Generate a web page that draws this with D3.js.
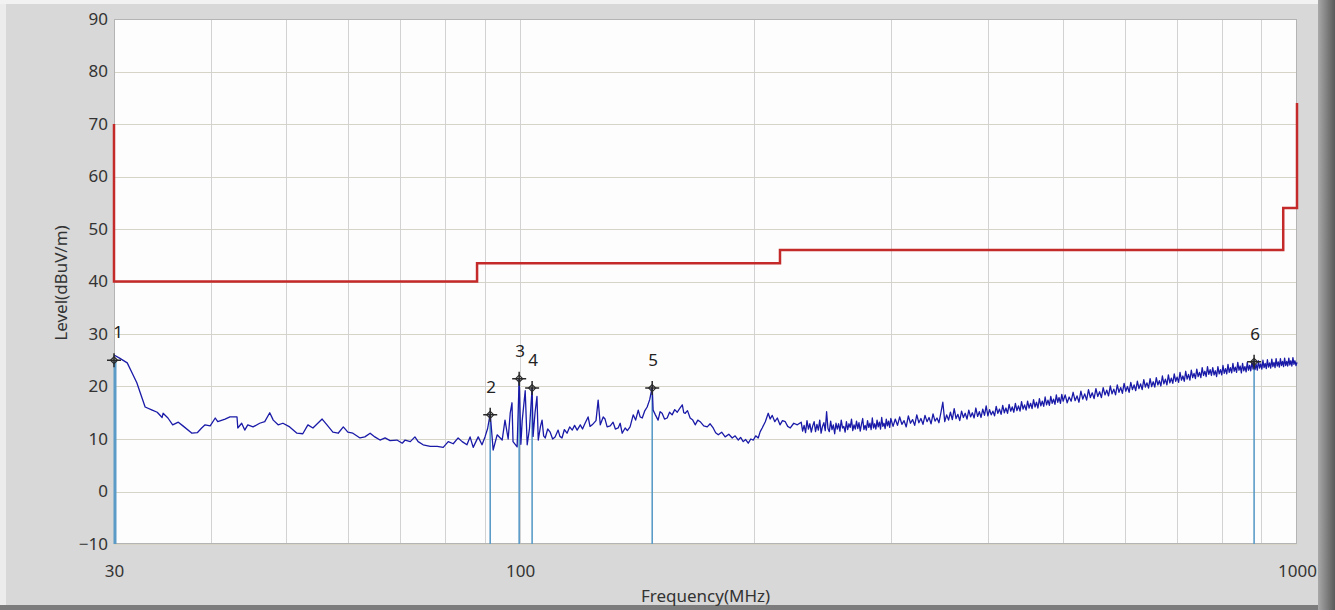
<!DOCTYPE html>
<html>
<head>
<meta charset="utf-8">
<script src="https://cdn.jsdelivr.net/npm/d3@7/dist/d3.min.js"></script>
<style>
  html, body { margin: 0; padding: 0; background: #c8c8c8; }
  svg { display: block; font-family: "Noto Sans", "DejaVu Sans", sans-serif; }
</style>
</head>
<body>
<div class="chart"></div>
<script>
// Radiated emission scan, 30 MHz - 1 GHz (log frequency axis)

// y axis ticks (dBuV/m) and labelled x ticks (MHz)
var levelTicks = [-10, 0, 10, 20, 30, 40, 50, 60, 70, 80, 90];
var freqLabels = [30, 100, 1000];
var freqGrid = [40, 50, 60, 70, 80, 90, 100, 200, 300, 400, 500, 600, 700, 800, 900];

// limit line (red), stepped
var limitFreq  = [30, 30, 88, 88, 216, 216, 960, 960, 1000, 1000];
var limitLevel = [70, 40, 40, 43.5, 43.5, 46, 46, 54, 54, 74];

// measured peaks
var markerFreq  = [30, 91.5, 99.7, 103.6, 147.9, 880.6];
var markerLevel = [25.0, 14.6, 21.5, 19.7, 19.7, 24.7];
var markerLabel = ["1", "2", "3", "4", "5", "6"];

// scan trace, 30 - 230 MHz (read point by point)
var traceLow = [
  [30.0, 26.0], [30.5, 25.4], [31.2, 24.5], [31.6, 22.8], [32.1, 20.7], [32.6, 17.8],
  [32.9, 16.1], [33.6, 15.5], [34.1, 15.1], [34.6, 14.1], [34.7, 14.9], [35.2, 14.0],
  [35.7, 12.7], [36.3, 13.2], [36.8, 12.5], [37.8, 11.1], [38.4, 11.2], [38.9, 12.1],
  [39.3, 12.7], [39.9, 12.5], [40.5, 14.0], [40.8, 13.3], [41.7, 13.8], [42.3, 14.2],
  [43.2, 14.2], [43.3, 12.1], [43.8, 13.0], [44.2, 11.7], [44.6, 12.7], [45.3, 12.3],
  [46.2, 13.0], [46.9, 13.3], [47.6, 15.0], [48.1, 13.6], [48.8, 12.7], [49.5, 13.0],
  [50.5, 12.3], [51.6, 11.1], [52.5, 11.0], [53.3, 12.7], [54.1, 12.1], [55.6, 13.8],
  [56.4, 12.7], [57.4, 11.3], [58.3, 11.1], [59.2, 12.3], [60.0, 11.3], [60.9, 11.1],
  [62.2, 10.2], [63.1, 10.4], [64.1, 11.1], [65.0, 10.4], [66.0, 9.8], [67.0, 10.2],
  [68.0, 9.7], [69.4, 9.8], [70.5, 9.2], [71.1, 9.8], [72.2, 9.5], [73.2, 10.4],
  [73.9, 9.5], [75.0, 8.9], [76.6, 8.6], [78.2, 8.6], [79.6, 8.4], [80.8, 9.5],
  [82.0, 9.1], [83.2, 10.2], [84.2, 9.5], [85.4, 8.9], [86.2, 10.4], [87.0, 8.4],
  [88.3, 10.4], [89.3, 8.9], [90.1, 10.4], [90.8, 12.0], [91.5, 14.8], [92.3, 7.9],
  [93.4, 10.8], [94.8, 9.8], [95.6, 13.6], [96.5, 10.0], [97.1, 15.0], [97.6, 16.9],
  [97.9, 9.5], [99.1, 8.5], [99.7, 21.5], [100.2, 9.0], [100.6, 13.5], [101.5, 19.2],
  [102.1, 8.9], [102.8, 12.0], [103.6, 19.7], [103.9, 10.5], [104.5, 15.0], [105.1, 18.1],
  [105.5, 9.8], [106.2, 12.4], [106.7, 13.6], [107.2, 10.6], [107.7, 10.2], [108.5, 11.9],
  [109.3, 11.3], [110.1, 10.0], [110.9, 10.4], [111.9, 11.7], [112.5, 10.5], [113.2, 10.2],
  [114.0, 11.8], [114.9, 11.1], [115.8, 12.3], [116.7, 11.7], [117.5, 12.6], [118.4, 11.7],
  [119.5, 12.7], [120.3, 11.9], [121.2, 13.0], [122.3, 14.2], [123.0, 12.4], [123.8, 12.7],
  [125.2, 13.5], [126.0, 17.4], [126.8, 12.7], [127.9, 14.2], [128.6, 13.8], [129.4, 12.3],
  [130.6, 12.5], [131.7, 13.2], [132.6, 11.9], [133.7, 12.1], [134.5, 13.0], [135.3, 11.1],
  [136.5, 12.1], [137.4, 11.6], [138.5, 12.3], [139.8, 14.6], [140.8, 13.6], [141.9, 15.5],
  [142.7, 14.2], [143.6, 14.0], [144.6, 15.3], [145.7, 16.1], [146.8, 17.5], [147.9, 19.9],
  [148.3, 15.5], [149.3, 14.6], [150.5, 13.6], [151.4, 15.2], [152.3, 14.9], [153.4, 13.8],
  [154.6, 14.0], [155.7, 15.1], [156.9, 14.6], [158.1, 15.6], [159.3, 15.1], [160.4, 15.8],
  [161.7, 16.5], [162.4, 15.0], [163.1, 14.9], [164.2, 15.4], [165.5, 14.0], [166.8, 13.6],
  [168.0, 12.7], [169.3, 13.6], [170.5, 13.3], [172.3, 12.5], [174.1, 12.3], [175.6, 12.9],
  [177.2, 12.1], [178.5, 11.2], [179.9, 10.8], [181.7, 11.3], [183.6, 10.4], [185.6, 10.9],
  [187.5, 10.2], [189.1, 10.6], [190.9, 9.8], [192.2, 10.3], [193.7, 9.5], [195.1, 9.9],
  [196.6, 9.2], [198.1, 10.0], [199.6, 9.8], [201.0, 10.6], [202.5, 10.2], [203.7, 11.4],
  [204.9, 12.1], [206.8, 13.3], [208.6, 14.9], [209.8, 13.8], [211.1, 14.5], [212.7, 13.3],
  [214.3, 14.0], [216.0, 12.7], [217.6, 13.5], [219.4, 13.3], [221.0, 12.4], [222.7, 12.1],
  [225.0, 13.0], [227.4, 12.7]
];

// scan trace, 230 MHz - 1 GHz (dense noisy band)
var traceHigh = [
  [230, 13.2], [231, 11.5], [232, 12.6], [233, 11.2], [234, 13.5], [235, 11.9], [236, 12.9],
  [237, 11.3], [238, 12.5], [239, 13.3], [240, 11.4], [241, 12.8], [242, 11.7], [243, 13.6],
  [244, 11.1], [245, 12.4], [246, 13.1], [247, 11.6], [248, 15.2], [249, 12.0], [250, 11.4],
  [251, 13.4], [252, 11.8], [253, 12.7], [254, 11.0], [255, 13.0], [256, 11.9], [257, 12.9],
  [258, 11.5], [259, 13.6], [260, 12.1], [261, 12.4], [262, 11.3], [263, 13.3], [264, 11.8],
  [265, 12.9], [266, 12.2], [267, 13.8], [268, 11.6], [269, 12.7], [270, 11.9], [271, 13.4],
  [272, 12.0], [273, 13.1], [274, 11.5], [275, 12.8], [276, 13.9], [277, 11.8], [278, 12.6],
  [279, 11.7], [280, 13.5], [281, 12.2], [282, 13.0], [283, 11.8], [284, 14.0], [285, 12.1],
  [286, 12.9], [287, 11.9], [288, 13.6], [289, 12.3], [290, 13.2], [291, 11.9], [292, 14.1],
  [293, 12.4], [294, 13.0], [295, 12.0], [296, 13.8], [297, 12.5], [298, 13.4], [299, 12.2],
  [300, 13.9], [302, 12.4], [304, 13.8], [306, 12.6], [308, 14.2], [310, 12.8], [312, 13.5],
  [314, 12.3], [316, 14.4], [318, 13.0], [320, 13.7], [322, 12.6], [324, 14.6], [326, 13.1],
  [328, 13.9], [330, 12.8], [332, 14.5], [334, 13.3], [336, 14.1], [338, 12.9], [340, 14.8],
  [342, 13.4], [344, 14.0], [346, 13.1], [348, 15.0], [350, 17.0], [352, 13.3], [354, 14.6],
  [356, 13.6], [358, 15.1], [360, 13.7], [362, 15.8], [364, 13.9], [366, 14.7], [368, 13.5],
  [370, 15.3], [372, 14.1], [374, 14.9], [376, 13.8], [378, 15.5], [380, 14.2], [382, 15.0],
  [384, 14.0], [386, 15.9], [388, 14.3], [390, 15.2], [392, 14.1], [394, 15.7], [396, 14.5],
  [398, 16.3], [400, 14.4], [402, 15.6], [404, 14.6], [406, 15.3], [408, 14.4], [410, 16.2],
  [412, 14.9], [414, 15.7], [416, 14.7], [418, 16.4], [420, 15.0], [422, 15.9], [424, 14.9],
  [426, 16.6], [428, 15.3], [430, 16.1], [432, 15.1], [434, 16.8], [436, 15.4], [438, 16.3],
  [440, 15.3], [442, 17.1], [444, 15.7], [446, 16.5], [448, 15.5], [450, 17.2], [452, 15.9],
  [454, 16.8], [456, 15.8], [458, 17.5], [460, 16.1], [462, 17.0], [464, 15.9], [466, 17.7],
  [468, 16.3], [470, 17.2], [472, 16.2], [474, 18.0], [476, 16.5], [478, 17.4], [480, 16.4],
  [482, 18.1], [484, 16.8], [486, 17.6], [488, 16.6], [490, 18.4], [492, 17.0], [494, 17.9],
  [496, 16.8], [498, 18.5], [500, 17.2], [503, 18.4], [506, 16.9], [509, 18.0], [512, 17.2],
  [515, 18.9], [518, 17.3], [521, 18.2], [524, 17.0], [527, 19.1], [530, 17.6], [533, 18.6],
  [536, 17.4], [539, 19.4], [542, 17.9], [545, 18.8], [548, 17.7], [551, 19.6], [554, 18.1],
  [557, 19.0], [560, 17.9], [563, 19.8], [566, 18.4], [569, 19.3], [572, 18.2], [575, 20.1],
  [578, 18.6], [581, 19.5], [584, 18.4], [587, 20.3], [590, 18.9], [593, 19.8], [596, 18.7],
  [599, 20.6], [602, 19.1], [605, 20.0], [608, 18.9], [611, 20.8], [614, 19.4], [617, 20.3],
  [620, 19.2], [623, 21.0], [626, 19.6], [629, 20.5], [632, 19.4], [635, 21.3], [638, 19.9],
  [641, 20.7], [644, 19.7], [647, 21.5], [650, 20.0], [653, 20.9], [656, 19.9], [659, 21.7],
  [662, 20.3], [665, 21.1], [668, 20.1], [671, 22.0], [674, 20.5], [677, 21.4], [680, 20.3],
  [683, 22.2], [686, 20.7], [689, 21.6], [692, 20.6], [695, 22.4], [698, 21.0], [701, 21.8],
  [704, 20.8], [707, 22.7], [710, 21.2], [713, 22.0], [716, 21.0], [719, 22.9], [722, 21.4],
  [725, 22.3], [728, 21.2], [731, 23.1], [734, 21.7], [737, 22.5], [740, 21.5], [743, 23.3],
  [746, 21.9], [749, 22.7], [752, 21.7], [755, 23.6], [758, 22.1], [761, 22.9], [764, 21.9],
  [767, 23.8], [770, 22.3], [773, 23.2], [776, 22.1], [779, 23.6], [782, 22.2], [785, 23.0],
  [788, 21.9], [791, 23.8], [794, 22.4], [797, 23.2], [800, 22.2], [803, 24.0], [806, 22.5],
  [809, 23.4], [812, 22.4], [815, 24.2], [818, 22.7], [821, 23.6], [824, 22.6], [827, 24.4],
  [830, 22.9], [833, 23.7], [836, 22.7], [839, 24.6], [842, 23.1], [845, 23.9], [848, 22.6],
  [851, 24.4], [854, 23.0], [857, 23.8], [860, 22.8], [863, 24.6], [866, 23.1], [869, 24.0],
  [872, 23.0], [875, 24.7], [878, 23.3], [880, 25.0], [883, 23.2], [886, 24.2], [889, 23.1],
  [892, 24.9], [895, 23.5], [898, 24.3], [901, 23.3], [904, 25.0], [907, 23.6], [910, 24.4],
  [913, 23.4], [916, 25.1], [919, 23.7], [922, 24.5], [925, 23.5], [928, 25.2], [931, 23.8],
  [934, 24.6], [937, 23.6], [940, 25.3], [943, 23.9], [946, 24.7], [949, 23.7], [952, 25.3],
  [955, 24.0], [958, 24.8], [961, 23.8], [964, 25.4], [967, 24.0], [970, 24.8], [973, 23.9],
  [976, 25.4], [979, 24.1], [982, 24.9], [985, 23.9], [988, 25.5], [991, 24.2], [994, 24.9],
  [997, 24.0], [1000, 24.6]
];

function renderChart() {
    var W = 1335, H = 610;
    var plot = {left: 114, right: 1297, top: 19, bottom: 544};

    var svg = d3.select(".chart").append("svg")
        .attr("width", W)
        .attr("height", H);

    // window-like frame
    var defs = svg.append("defs");
    var shade = defs.append("linearGradient").attr("id", "rshade")
        .attr("x1", 0).attr("x2", 1).attr("y1", 0).attr("y2", 0);
    shade.append("stop").attr("offset", "0%").attr("stop-color", "#a8a8a8");
    shade.append("stop").attr("offset", "100%").attr("stop-color", "#5a5a5a");

    svg.append("rect").attr("x", 0).attr("y", 0).attr("width", W).attr("height", H)
        .attr("fill", "#d8d8d8");
    svg.append("rect").attr("x", 0).attr("y", 0).attr("width", 6).attr("height", 605)
        .attr("fill", "#ececec");
    svg.append("rect").attr("x", 0).attr("y", 0).attr("width", 1318).attr("height", 4)
        .attr("fill", "#f2f2f2");
    svg.append("rect").attr("x", 1318).attr("y", 0).attr("width", 17).attr("height", H)
        .attr("fill", "url(#rshade)");
    svg.append("rect").attr("x", 0).attr("y", 605).attr("width", 1318).attr("height", 5)
        .attr("fill", "#7c7c7c");

    var x = d3.scaleLog().domain([30, 1000]).range([plot.left, plot.right]);
    var y = d3.scaleLinear().domain([-10, 90]).range([plot.bottom, plot.top]);

    // plot background
    svg.append("rect")
        .attr("x", plot.left).attr("y", plot.top)
        .attr("width", plot.right - plot.left).attr("height", plot.bottom - plot.top)
        .attr("fill", "#fdfdfd");

    // grid
    var grid = svg.append("g").attr("class", "grid");
    grid.selectAll("line.h").data(levelTicks).enter().append("line")
        .attr("class", "h")
        .attr("x1", plot.left).attr("x2", plot.right)
        .attr("y1", function(d) { return Math.round(y(d)) + 0.5; })
        .attr("y2", function(d) { return Math.round(y(d)) + 0.5; })
        .attr("stroke", "#d6d4c6");
    grid.selectAll("line.v").data(freqGrid).enter().append("line")
        .attr("class", "v")
        .attr("y1", plot.top).attr("y2", plot.bottom)
        .attr("x1", function(d) { return Math.round(x(d)) + 0.5; })
        .attr("x2", function(d) { return Math.round(x(d)) + 0.5; })
        .attr("stroke", "#d2d2d2");

    // plot border
    svg.append("rect")
        .attr("x", plot.left + 0.5).attr("y", plot.top + 0.5)
        .attr("width", plot.right - plot.left - 1).attr("height", plot.bottom - plot.top - 1)
        .attr("fill", "none").attr("stroke", "#b4b4b4");

    // axes: labels only, no tick marks
    var yAxis = d3.axisLeft(y).tickValues(levelTicks).tickSize(0).tickPadding(6);
    var gy = svg.append("g").attr("transform", "translate(" + plot.left + ",0)").call(yAxis);
    gy.select(".domain").remove();
    gy.selectAll("text").attr("font-size", 17).attr("fill", "#333")
        .attr("font-family", "Noto Sans");

    var xAxis = d3.axisBottom(x).tickValues(freqLabels).tickSize(0).tickPadding(21)
        .tickFormat(d3.format("d"));
    var gx = svg.append("g").attr("transform", "translate(0," + plot.bottom + ")").call(xAxis);
    gx.select(".domain").remove();
    gx.selectAll("text").attr("font-size", 17).attr("fill", "#333")
        .attr("font-family", "Noto Sans");

    svg.append("text")
        .attr("x", (plot.left + plot.right) / 2).attr("y", 602)
        .attr("text-anchor", "middle")
        .attr("font-size", 17).attr("fill", "#333")
        .text("Frequency(MHz)");

    svg.append("text")
        .attr("transform", "translate(67,283) rotate(-90)")
        .attr("text-anchor", "middle")
        .attr("font-size", 17).attr("fill", "#333")
        .text("Level(dBuV/m)");

    // marker drop lines
    svg.selectAll("line.drop").data(markerFreq).enter().append("line")
        .attr("class", "drop")
        .attr("x1", function(d) { return x(d) + (d === 30 ? 1 : 0); })
        .attr("x2", function(d) { return x(d) + (d === 30 ? 1 : 0); })
        .attr("y1", function(d, i) { return y(markerLevel[i]); })
        .attr("y2", plot.bottom)
        .attr("stroke", "#5b9bc8")
        .attr("stroke-width", function(d) { return d === 30 ? 3 : 1.6; });

    // limit line
    var limitPts = limitFreq.map(function(f, i) { return [f, limitLevel[i]]; });
    svg.append("path")
        .datum(limitPts)
        .attr("d", d3.line().x(function(d) { return x(d[0]); }).y(function(d) { return y(d[1]); }))
        .attr("fill", "none")
        .attr("stroke", "#c42a2a")
        .attr("stroke-width", 2.5);

    // scan trace
    var trace = traceLow.concat(traceHigh);
    svg.append("path")
        .datum(trace)
        .attr("d", d3.line().x(function(d) { return x(d[0]); }).y(function(d) { return y(d[1]); }))
        .attr("fill", "none")
        .attr("stroke", "#1a1aa8")
        .attr("stroke-width", 1.3)
        .attr("stroke-linejoin", "round");

    // peak markers
    var mk = svg.selectAll("g.marker").data(markerFreq).enter().append("g")
        .attr("class", "marker")
        .attr("transform", function(d, i) {
            return "translate(" + x(d) + "," + y(markerLevel[i]) + ")";
        });
    mk.append("path")
        .attr("d", "M-7,0H7M0,-7V7")
        .attr("stroke", "#2a2a2a").attr("stroke-width", 1.5);
    mk.append("path")
        .attr("d", "M0,-3.5L3.5,0L0,3.5L-3.5,0Z")
        .attr("fill", "none").attr("stroke", "#2a2a2a").attr("stroke-width", 1.2);
    mk.append("text")
        .attr("x", function(d) { return d === 30 ? 4 : 1; })
        .attr("y", -22)
        .attr("text-anchor", "middle")
        .attr("font-size", 17).attr("fill", "#222")
        .text(function(d, i) { return markerLabel[i]; });
}

renderChart();
</script>
</body>
</html>
